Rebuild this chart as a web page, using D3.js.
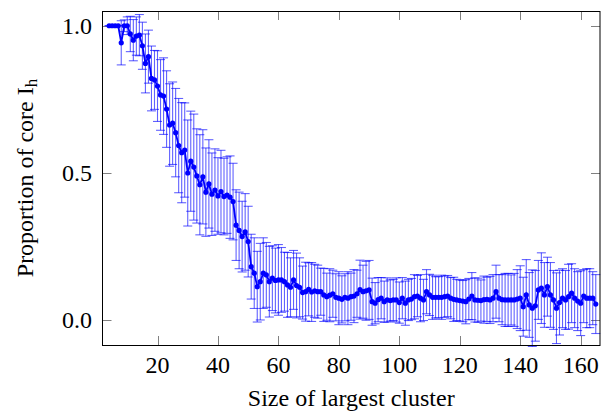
<!DOCTYPE html>
<html>
<head>
<script src="https://cdn.jsdelivr.net/npm/d3@7"></script>
<style>
  body { margin: 0; background: #fff; }
  text { font-family: "Liberation Serif", "Times New Roman", serif; }
</style>
</head>
<body>
<script>
// cluster sizes 4..165
var sizes = d3.range(4, 166);

// mean proportion of core I_h for each size
var meanProp = [
  1.0, 1.0, 1.0, 1.0, 0.942, 1.0, 1.0, 0.972, 0.951, 0.965,
  0.968, 0.932, 0.872, 0.895, 0.821, 0.816, 0.795, 0.765, 0.761, 0.717,
  0.663, 0.669, 0.637, 0.593, 0.569, 0.578, 0.500, 0.540, 0.520, 0.490,
  0.460, 0.487, 0.435, 0.463, 0.428, 0.442, 0.422, 0.437, 0.420, 0.425,
  0.418, 0.403, 0.323, 0.305, 0.284, 0.300, 0.267, 0.182, 0.160, 0.114,
  0.131, 0.160, 0.154, 0.131, 0.143, 0.135, 0.137, 0.137, 0.131, 0.120,
  0.112, 0.137, 0.118, 0.112, 0.094, 0.097, 0.105, 0.096, 0.100, 0.097,
  0.097, 0.086, 0.080, 0.085, 0.090, 0.078, 0.075, 0.071, 0.078, 0.075,
  0.080, 0.082, 0.090, 0.104, 0.097, 0.100, 0.103, 0.063, 0.058, 0.070,
  0.075, 0.063, 0.069, 0.067, 0.069, 0.069, 0.060, 0.075, 0.058, 0.069,
  0.072, 0.080, 0.082, 0.075, 0.069, 0.097, 0.086, 0.078, 0.078, 0.078,
  0.078, 0.080, 0.082, 0.075, 0.071, 0.069, 0.067, 0.065, 0.063, 0.072,
  0.082, 0.069, 0.068, 0.067, 0.070, 0.071, 0.069, 0.075, 0.097, 0.075,
  0.070, 0.069, 0.069, 0.069, 0.069, 0.072, 0.075, 0.046, 0.086, 0.052,
  0.041, 0.049, 0.103, 0.109, 0.086, 0.114, 0.086, 0.069, 0.041, 0.060,
  0.075, 0.069, 0.080, 0.092, 0.075, 0.065, 0.058, 0.082, 0.075, 0.075, 0.075, 0.055
];

// standard deviation (error bar half height)
var stdProp = [
  0, 0, 0, 0, 0.075, 0.02, 0.03, 0.06, 0.07, 0.065,
  0.07, 0.08, 0.10, 0.09, 0.11, 0.10, 0.12, 0.12, 0.13, 0.13,
  0.14, 0.14, 0.15, 0.16, 0.17, 0.16, 0.18, 0.17, 0.18, 0.16,
  0.17, 0.16, 0.15, 0.15, 0.14, 0.14, 0.13, 0.14, 0.13, 0.13,
  0.14, 0.13, 0.12, 0.13, 0.12, 0.13, 0.12, 0.11, 0.12, 0.12,
  0.13, 0.12, 0.11, 0.12, 0.11, 0.11, 0.12, 0.11, 0.10, 0.11,
  0.10, 0.10, 0.11, 0.10, 0.09, 0.10, 0.09, 0.10, 0.09, 0.09,
  0.08, 0.09, 0.08, 0.09, 0.08, 0.08, 0.09, 0.08, 0.08, 0.09,
  0.08, 0.09, 0.08, 0.10, 0.09, 0.10, 0.10, 0.08, 0.07, 0.075,
  0.07, 0.07, 0.075, 0.07, 0.07, 0.075, 0.07, 0.07, 0.075, 0.07,
  0.07, 0.075, 0.07, 0.08, 0.07, 0.075, 0.07, 0.075, 0.07, 0.07,
  0.075, 0.07, 0.07, 0.07, 0.075, 0.07, 0.07, 0.07, 0.075, 0.07,
  0.08, 0.075, 0.075, 0.07, 0.08, 0.075, 0.08, 0.08, 0.09, 0.08,
  0.085, 0.09, 0.09, 0.085, 0.09, 0.10, 0.11, 0.10, 0.12, 0.11,
  0.13, 0.12, 0.10, 0.12, 0.11, 0.10, 0.11, 0.10, 0.12, 0.11,
  0.10, 0.10, 0.11, 0.10, 0.10, 0.10, 0.11, 0.09, 0.10, 0.10, 0.09, 0.10
];

var xTicks = [20, 40, 60, 80, 100, 120, 140, 160];
var yTicks = [0.0, 0.5, 1.0];

var W = 604, H = 414;
var plotL = 102.5, plotR = 600, plotT = 11, plotB = 345;

var data = sizes.map(function (s, i) { return { x: s, m: meanProp[i], sd: stdProp[i] }; });

var x = d3.scaleLinear().domain([1.8, 166.4]).range([plotL, plotR]);
var y = d3.scaleLinear().domain([-0.084, 1.05]).range([plotB, plotT]);

var svg = d3.select("body").append("svg")
    .attr("width", W)
    .attr("height", H);

// ticks, drawn inward on all four sides
var tickLen = 9;
var tg = svg.append("g").attr("stroke", "#808080").attr("stroke-width", 1);
xTicks.forEach(function (t) {
  var px = Math.round(x(t)) + 0.5;
  tg.append("line").attr("x1", px).attr("x2", px).attr("y1", plotB).attr("y2", plotB - tickLen);
  tg.append("line").attr("x1", px).attr("x2", px).attr("y1", plotT).attr("y2", plotT + tickLen);
});
yTicks.forEach(function (t) {
  var py = Math.round(y(t)) + 0.5;
  tg.append("line").attr("x1", plotL).attr("x2", plotL + tickLen).attr("y1", py).attr("y2", py);
  tg.append("line").attr("x1", plotR).attr("x2", plotR - tickLen).attr("y1", py).attr("y2", py);
});

// error bars
var eb = svg.append("g")
    .attr("stroke", "#0000ff")
    .attr("stroke-width", 1.1)
    .attr("stroke-opacity", 0.62);
var capW = 4.5;
data.forEach(function (d) {
  var px = x(d.x);
  eb.append("line").attr("x1", px).attr("x2", px)
    .attr("y1", y(d.m + d.sd)).attr("y2", y(d.m - d.sd));
  eb.append("line").attr("x1", px - capW).attr("x2", px + capW)
    .attr("y1", y(d.m + d.sd)).attr("y2", y(d.m + d.sd));
  eb.append("line").attr("x1", px - capW).attr("x2", px + capW)
    .attr("y1", y(d.m - d.sd)).attr("y2", y(d.m - d.sd));
});

// mean line
var line = d3.line()
    .x(function (d) { return x(d.x); })
    .y(function (d) { return y(d.m); });

svg.append("path")
    .datum(data)
    .attr("d", line)
    .attr("fill", "none")
    .attr("stroke", "#0000ff")
    .attr("stroke-width", 1.8);

svg.append("g").selectAll("circle")
    .data(data)
    .enter()
    .append("circle")
    .attr("cx", function (d) { return x(d.x); })
    .attr("cy", function (d) { return y(d.m); })
    .attr("r", 2.6)
    .attr("fill", "#0000ff");

// frame
svg.append("rect")
    .attr("x", plotL).attr("y", plotT + 0.5)
    .attr("width", plotR - plotL).attr("height", plotB - plotT)
    .attr("fill", "none")
    .attr("stroke", "#000")
    .attr("stroke-width", 1);

// tick labels
svg.append("g").selectAll("text")
    .data(xTicks)
    .enter()
    .append("text")
    .attr("x", function (d) { return x(d); })
    .attr("y", 373)
    .attr("text-anchor", "middle")
    .attr("font-size", "24px")
    .attr("fill", "#000")
    .text(function (d) { return d; });

svg.append("g").selectAll("text")
    .data(yTicks)
    .enter()
    .append("text")
    .attr("x", 92)
    .attr("y", function (d) { return y(d) + 8; })
    .attr("text-anchor", "end")
    .attr("font-size", "24px")
    .attr("fill", "#000")
    .text(function (d) { return d.toFixed(1); });

// axis labels
svg.append("text")
    .attr("x", (plotL + plotR) / 2)
    .attr("y", 406)
    .attr("text-anchor", "middle")
    .attr("font-size", "24px")
    .text("Size of largest cluster");

var yl = svg.append("text")
    .attr("transform", "translate(33," + ((plotT + plotB) / 2) + ") rotate(-90)")
    .attr("text-anchor", "middle")
    .attr("font-size", "24px");
yl.append("tspan").text("Proportion of core I");
yl.append("tspan").attr("font-size", "17px").attr("dy", 4).text("h");
</script>
</body>
</html>
